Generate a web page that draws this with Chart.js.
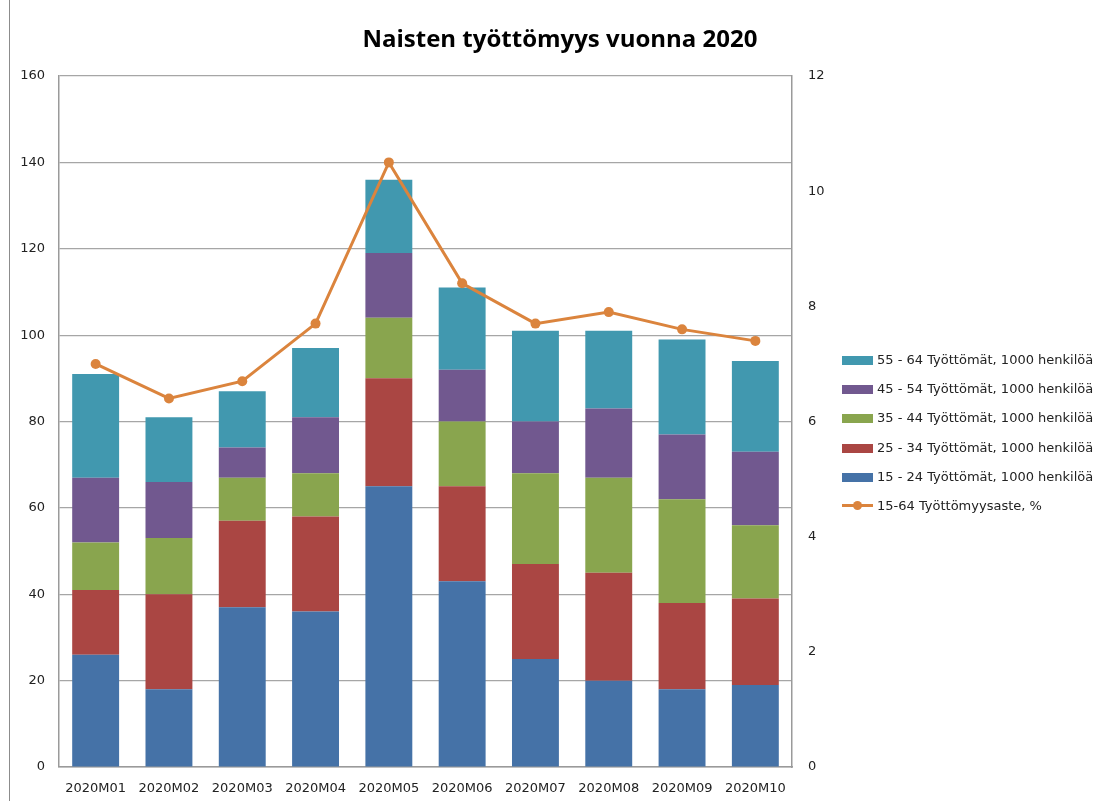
<!DOCTYPE html>
<html>
<head>
<meta charset="utf-8">
<script src="https://cdn.jsdelivr.net/npm/chart.js@4"></script>
<style>
  body { margin: 0; background: #fff; }
  #wrap { position: relative; width: 1111px; height: 801px; }
  #frame { position: absolute; left: 9px; top: 0; width: 1px; height: 801px; background: #8c8c8c; }
  #title { position: absolute; left: 0; width: 1120px; top: 21px; text-align: center;
           font: bold 24px "Open Sans", sans-serif; color: #000; }
  #legend { position: absolute; left: 842px; top: 352px; font: 13px "DejaVu Sans", sans-serif; color: #222; }
  .item { height: 29.2px; display: flex; align-items: flex-start; }
  .box { width: 31px; height: 9px; margin-top: 4px; margin-right: 4px; }
  .lineKey { width: 31px; height: 15px; margin-right: 4px; position: relative; }
  .lineKey .l { position: absolute; left: 0; top: 6px; width: 31px; height: 3px; }
  .lineKey .d { position: absolute; left: 11px; top: 3px; width: 9px; height: 9px; border-radius: 50%; }
</style>
</head>
<body>
<div id="wrap">
  <canvas id="myChart" width="1111" height="801"></canvas>
  <div id="frame"></div>
  <div id="title">Naisten työttömyys vuonna 2020</div>
  <div id="legend"></div>
</div>
<script>
// Data
const months = ['2020M01', '2020M02', '2020M03', '2020M04', '2020M05', '2020M06', '2020M07', '2020M08', '2020M09', '2020M10'];
const age15_24 = [26, 18, 37, 36, 65, 43, 25, 20, 18, 19];
const age25_34 = [15, 22, 20, 22, 25, 22, 22, 25, 20, 20];
const age35_44 = [11, 13, 10, 10, 14, 15, 21, 22, 24, 17];
const age45_54 = [15, 13, 7, 13, 15, 12, 12, 16, 15, 17];
const age55_64 = [24, 15, 13, 16, 17, 19, 21, 18, 22, 21];
const rate15_64 = [7.0, 6.4, 6.7, 7.7, 10.5, 8.4, 7.7, 7.9, 7.6, 7.4];

const leftTicks = [0, 20, 40, 60, 80, 100, 120, 140, 160];
const rightTicks = [0, 2, 4, 6, 8, 10, 12];

const barDs = (label, values, color) => ({
    type: 'bar',
    label: label,
    data: values,
    backgroundColor: color,
    yAxisID: 'y',
    stack: 'ages',
    order: 1,
    barPercentage: 0.64,
    categoryPercentage: 1
});

const data = {
    labels: months,
    datasets: [
        barDs('15 - 24 Työttömät, 1000 henkilöä', age15_24, '#4572A7'),
        barDs('25 - 34 Työttömät, 1000 henkilöä', age25_34, '#AA4643'),
        barDs('35 - 44 Työttömät, 1000 henkilöä', age35_44, '#89A54E'),
        barDs('45 - 54 Työttömät, 1000 henkilöä', age45_54, '#71588F'),
        barDs('55 - 64 Työttömät, 1000 henkilöä', age55_64, '#4198AF'),
        {
            type: 'line',
            label: '15-64 Työttömyysaste, %',
            data: rate15_64,
            borderColor: '#DB843D',
            backgroundColor: '#DB843D',
            borderWidth: 3,
            pointRadius: 5,
            pointBorderWidth: 0,
            tension: 0,
            yAxisID: 'y1',
            order: 0
        }
    ]
};

const tickFont = { family: 'DejaVu Sans', size: 13 };

const ctx = document.getElementById('myChart').getContext('2d');
const myChart = new Chart(ctx, {
    type: 'bar',
    data: data,
    options: {
        responsive: false,
        animation: false,
        layout: { padding: { left: 10, right: 269, top: 76, bottom: 0 } },
        plugins: {
            legend: { display: false },
            tooltip: { enabled: false }
        },
        scales: {
            x: {
                stacked: true,
                grid: { display: false, drawTicks: false },
                border: { color: '#9a9a9a', width: 1.5 },
                ticks: { color: '#222', font: tickFont, padding: 14 },
                afterFit: (s) => { s.height = 34; }
            },
            y: {
                stacked: true,
                min: 0,
                max: 160,
                afterBuildTicks: (s) => { s.ticks = leftTicks.map(v => ({ value: v })); },
                grid: { color: '#a6a6a6', lineWidth: 1.2, drawTicks: false },
                border: { color: '#9a9a9a', width: 1.5 },
                ticks: { color: '#222', font: tickFont, padding: 14 },
                afterFit: (s) => { s.width = 49; }
            },
            y1: {
                position: 'right',
                min: 0,
                max: 12,
                afterBuildTicks: (s) => { s.ticks = rightTicks.map(v => ({ value: v })); },
                grid: { display: false, tickLength: 6 },
                border: { color: '#9a9a9a', width: 1.5 },
                ticks: { color: '#222', font: tickFont, padding: 10 },
                afterFit: (s) => { s.width = 50; }
            }
        }
    }
});

// legend in the order of the reference (top segment first, line last)
const legendEl = document.getElementById('legend');
const order = [4, 3, 2, 1, 0, 5];
order.forEach(i => {
    const ds = data.datasets[i];
    const row = document.createElement('div');
    row.className = 'item';
    if (ds.type === 'line') {
        row.innerHTML = '<div class="lineKey"><div class="l" style="background:' + ds.borderColor +
            '"></div><div class="d" style="background:' + ds.borderColor + '"></div></div>';
    } else {
        row.innerHTML = '<div class="box" style="background:' + ds.backgroundColor + '"></div>';
    }
    const t = document.createElement('span');
    t.textContent = ds.label;
    row.appendChild(t);
    legendEl.appendChild(row);
});
</script>
</body>
</html>
